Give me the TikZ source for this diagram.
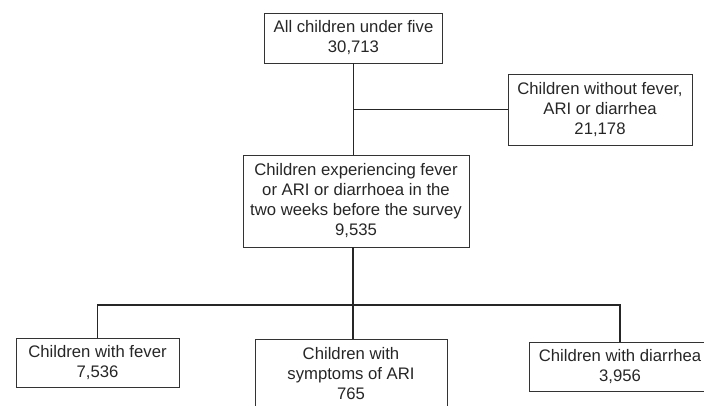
\documentclass[tikz,border=0pt]{standalone}
\usepackage{fontspec}
\setmainfont{Liberation Sans}
\usetikzlibrary{positioning}
\tikzset{
  box/.style={draw=black!80, line width=0.9pt, align=center, inner sep=2pt,
    font=\fontsize{16.7}{20}\selectfont, text=black!85},
  link/.style={line width=1.8pt, black!85}
}
\begin{document}
\begin{tikzpicture}[x=1pt,y=-1pt]
    \useasboundingbox (0,0) rectangle (704,405);
    \begin{scope}
    \clip (0,0) rectangle (704,405);
    \node (all) at (353.5,38) [box, minimum width=178pt, minimum height=50pt] {All children under five\\30,713};
    \node (without) at (600,109.5) [box, minimum width=184pt, minimum height=71pt] {Children without fever,\\ARI or diarrhea\\21,178};
    \node (sick) at (356,201) [box, minimum width=226pt, minimum height=92pt] {Children experiencing fever\\or ARI or diarrhoea in the\\two weeks before the survey\\9,535};
    \node (fever) at (97.5,362.5) [box, minimum width=163pt, minimum height=49pt] {Children with fever\\7,536};
    \node (ari) at (351,374) [box, minimum width=192pt, minimum height=70pt] {Children with\\symptoms of ARI\\765};
    \node (diarrhea) at (620,366.5) [box, minimum width=182pt, minimum height=49pt] {Children with diarrhea\\3,956};
    \end{scope}
    \coordinate (split) at (353,305);
    \draw [link] (all.south) -- (all.south |- sick.north);
    \draw [link] (all.south |- without.west) -- (without.west);
    \draw [link] (split |- sick.south) -- (split);
    \draw [link] (fever.north) |- (split) -| (diarrhea.north);
    \draw [link] (split) -- (split |- ari.north);
\end{tikzpicture}
\end{document}
